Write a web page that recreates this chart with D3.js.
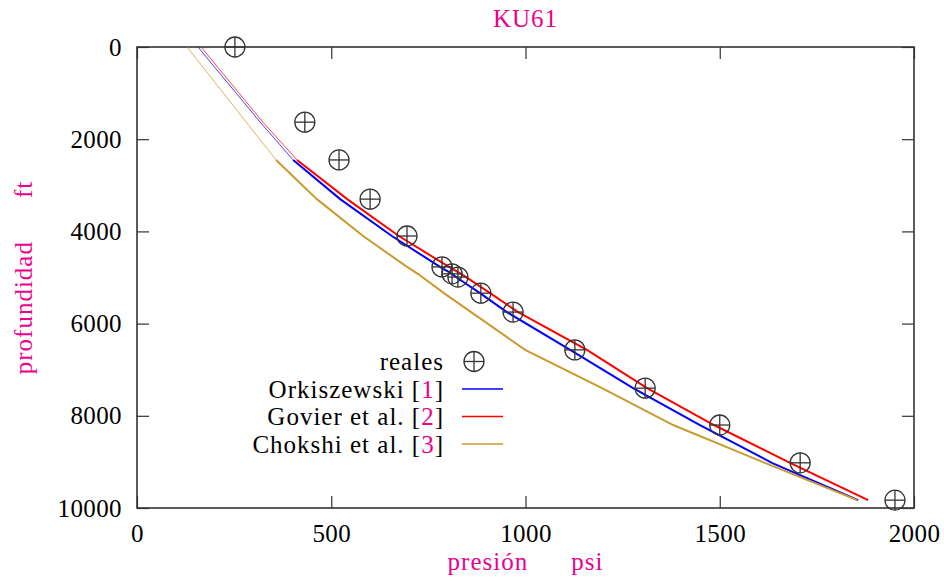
<!DOCTYPE html>
<html>
<head>
<meta charset="utf-8">
<script src="https://cdn.jsdelivr.net/npm/d3@7"></script>
<style>
  html, body { margin: 0; padding: 0; background: #fff; }
  svg { display: block; }
  text { font-family: "Liberation Serif", "Times New Roman", serif; }
</style>
</head>
<body>
<svg id="chart" width="944" height="584"></svg>
<script>
// Depths (ft) at which pressures were measured and profiles evaluated
const depths = [0, 1630, 2450, 3300, 4100, 4770, 4920, 4990, 5340, 5750, 6570, 7400, 8200, 9020, 9830];
// Measured pressure (psi)
const reales = [252, 432, 520, 600, 695, 785, 811, 826, 885, 968, 1127, 1308, 1500, 1707, 1951];
// Computed pressure profiles (psi)
const orkiszewski = [157, 317, 402, 523, 656, 780, 811, 821, 883, 952, 1115, 1277, 1449, 1634, 1856];
const govier = [165, 324, 412, 541, 674, 803, 834, 847, 909, 981, 1158, 1313, 1485, 1681, 1882];
const chokshi = [129, 281, 358, 463, 582, 695, 723, 734, 790, 860, 999, 1197, 1380, 1616, 1854];

const xTicks = [0, 500, 1000, 1500, 2000];
const yTicks = [0, 2000, 4000, 6000, 8000, 10000];

const pink = "#ec008c";
const frame = "#333";

const series = [
  { name: "Orkiszewski", ref: "1", values: orkiszewski, color: "#0000ff" },
  { name: "Govier et al.", ref: "2", values: govier, color: "#ff0000" },
  { name: "Chokshi et al.", ref: "3", values: chokshi, color: "#c99a2e" }
];

const svg = d3.select("#chart");
const plotLeft = 137, plotRight = 914, plotTop = 47, plotBottom = 508;

const x = d3.scaleLinear().domain([0, 2000]).range([plotLeft, plotRight]);
const y = d3.scaleLinear().domain([0, 10000]).range([plotTop, plotBottom]);

// Axes with inward ticks
const axisStyle = g => {
  g.select(".domain").remove();
  g.selectAll(".tick line").attr("stroke", frame).attr("stroke-width", 1.2);
  g.selectAll(".tick text").attr("fill", "#000").style("font-size", "25px")
    .style("font-family", "'Liberation Serif', serif").style("letter-spacing", "0.4px");
};

svg.append("g").attr("transform", `translate(0,${plotBottom})`)
  .call(d3.axisBottom(x).tickValues(xTicks).tickSize(-12).tickPadding(16).tickFormat(d3.format("d")))
  .call(axisStyle);
svg.append("g").attr("transform", `translate(0,${plotTop})`)
  .call(d3.axisTop(x).tickValues(xTicks).tickSize(-12).tickFormat(""))
  .call(axisStyle);
svg.append("g").attr("transform", `translate(${plotLeft},0)`)
  .call(d3.axisLeft(y).tickValues(yTicks).tickSize(-12).tickPadding(15).tickFormat(d3.format("d")))
  .call(axisStyle);
svg.append("g").attr("transform", `translate(${plotRight},0)`)
  .call(d3.axisRight(y).tickValues(yTicks).tickSize(-12).tickFormat(""))
  .call(axisStyle);

// Frame
svg.append("rect")
  .attr("x", plotLeft).attr("y", plotTop)
  .attr("width", plotRight - plotLeft).attr("height", plotBottom - plotTop)
  .attr("fill", "none").attr("stroke", frame).attr("stroke-width", 1.6);

// Profiles: shallow section drawn thin, the rest full weight
const line = d3.line().x(d => x(d[0])).y(d => y(d[1]));
series.forEach(s => {
  const pts = s.values.map((v, i) => [v, depths[i]]);
  svg.append("path").datum(pts.slice(0, 3))
    .attr("d", line).attr("fill", "none")
    .attr("stroke", s.color).attr("stroke-width", 1).attr("opacity", 0.75);
  svg.append("path").datum(pts.slice(2))
    .attr("d", line).attr("fill", "none")
    .attr("stroke", s.color).attr("stroke-width", 2);
});

// Measured points: circled plus marker
const r = 10;
function marker(g, cx, cy) {
  const m = g.append("g").attr("transform", `translate(${cx},${cy})`)
    .attr("stroke", "#333").attr("stroke-width", 1.3).attr("fill", "none");
  m.append("circle").attr("r", r);
  m.append("line").attr("x1", -r).attr("x2", r);
  m.append("line").attr("y1", -r).attr("y2", r);
}
const pointsG = svg.append("g");
reales.forEach((p, i) => marker(pointsG, x(p), y(depths[i])));

// Legend
const legX = 444;
const legRows = [370, 397.5, 425, 452.5];
const leg = svg.append("g").style("font-size", "25px").style("letter-spacing", "1px");
leg.append("text").attr("x", legX).attr("y", legRows[0]).attr("text-anchor", "end").text("reales");
marker(leg, 474, legRows[0] - 8.5);
series.forEach((s, i) => {
  const t = leg.append("text").attr("x", legX).attr("y", legRows[i + 1]).attr("text-anchor", "end");
  t.append("tspan").text(s.name + " [");
  t.append("tspan").attr("fill", pink).text(s.ref);
  t.append("tspan").text("]");
  leg.append("line")
    .attr("x1", 462).attr("x2", 503)
    .attr("y1", legRows[i + 1] - 8.5).attr("y2", legRows[i + 1] - 8.5)
    .attr("stroke", s.color).attr("stroke-width", 1.5);
});

// Title
svg.append("text").attr("x", (plotLeft + plotRight) / 2).attr("y", 27)
  .attr("text-anchor", "middle").attr("fill", pink)
  .style("font-size", "25px").style("letter-spacing", "1px").text("KU61");

// Axis titles
const xt = svg.append("text").attr("x", (plotLeft + plotRight) / 2).attr("y", 570)
  .attr("text-anchor", "middle").attr("fill", pink)
  .style("font-size", "25px").style("letter-spacing", "1px");
xt.append("tspan").text("presión");
xt.append("tspan").attr("dx", 43).text("psi");

const yt = svg.append("text")
  .attr("transform", `translate(32,${(plotTop + plotBottom) / 2}) rotate(-90)`)
  .attr("text-anchor", "middle").attr("fill", pink)
  .style("font-size", "25px").style("letter-spacing", "1px");
yt.append("tspan").text("profundidad");
yt.append("tspan").attr("dx", 43).text("ft");
</script>
</body>
</html>
